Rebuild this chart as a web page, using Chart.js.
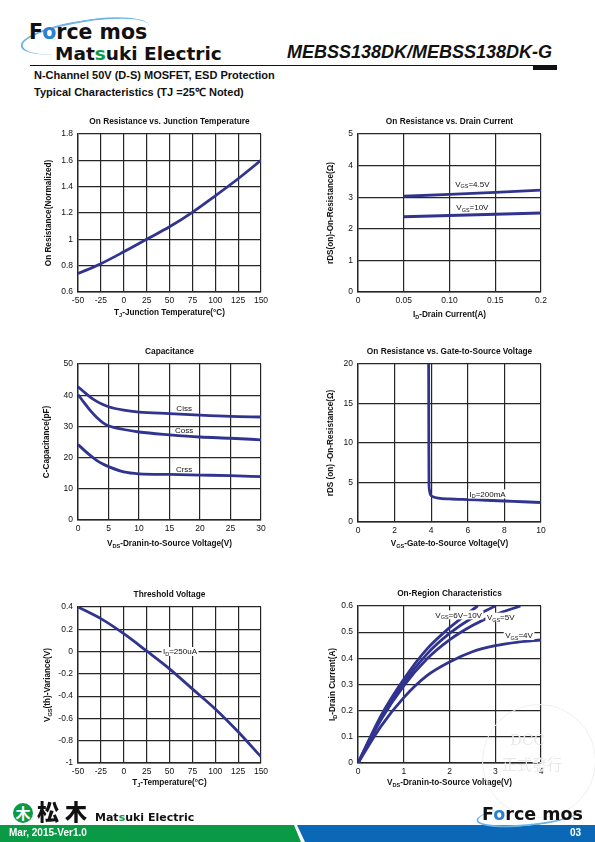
<!DOCTYPE html>
<html>
<head>
<meta charset="utf-8">
<script src="https://cdn.jsdelivr.net/npm/chart.js@4.4.1/dist/chart.umd.min.js"></script>
<style>
  body { margin: 0; }
  .page { position: relative; width: 595px; height: 842px; overflow: hidden; background: #fff;
          font-family: "Liberation Sans", Arial, sans-serif; color: #111; }
  .abs { position: absolute; white-space: nowrap; }
  canvas { position: absolute; }
  .heavy { font-family: "DejaVu Sans", sans-serif; font-weight: bold; color: #111; line-height: 1; }
  .green { color: #0a9a45; }
  .ball { color: #2a7fd4; }
</style>
</head>
<body>
<div class="page">
  <!-- header -->
  <div class="abs" style="left:20px;top:20px;width:128px;height:30px;border-top:2px solid #6cb4e8;border-left:2px solid #6cb4e8;border-radius:50%;transform:rotate(-9deg);"></div>
  <div class="abs heavy" style="left:29px;top:22px;font-size:20.5px;">F<span class="ball">o</span>rce mos</div>
  <div class="abs heavy" style="left:55px;top:45px;font-size:18.5px;">Mat<span class="green">s</span>uki Electric</div>
  <div class="abs" style="left:287px;top:43px;font-size:18px;font-style:italic;font-weight:bold;line-height:1;">MEBSS138DK/MEBSS138DK-G</div>
  <div class="abs" style="left:30px;top:65px;width:527px;height:1px;background:#111;"></div>
  <div class="abs" style="left:533px;top:65px;width:24px;height:5px;background:#111;"></div>
  <div class="abs" style="left:34px;top:69px;font-size:11px;font-weight:bold;line-height:13px;">N-Channel 50V (D-S) MOSFET, ESD Protection</div>
  <div class="abs" style="left:34px;top:86px;font-size:11px;font-weight:bold;line-height:13px;">Typical Characteristics (TJ =25℃ Noted)</div>

  <!-- charts -->
  <canvas id="c1" width="279" height="216" style="left:30px;top:110px;"></canvas>
  <canvas id="c2" width="279" height="216" style="left:310px;top:110px;"></canvas>
  <canvas id="c3" width="279" height="214" style="left:30px;top:340px;"></canvas>
  <canvas id="c4" width="279" height="216" style="left:310px;top:340px;"></canvas>
  <canvas id="c5" width="279" height="214" style="left:30px;top:583px;"></canvas>
  <canvas id="c6" width="279" height="215" style="left:310px;top:582px;"></canvas>

  <!-- faint stamp -->
  <div class="abs" style="left:482px;top:704px;width:112px;height:112px;border:1px solid #efefef;border-radius:50%;"></div>
  <div class="abs" style="left:510px;top:731px;font-family:'DejaVu Serif',serif;font-size:15px;color:#e9e9e9;">DCC</div>
  <div class="abs" style="left:502px;top:753px;font-family:'Noto Sans CJK TC',sans-serif;font-size:15px;color:#e9e9e9;">正式發行</div>

  <!-- footer -->
  <div class="abs" style="left:13px;top:803px;width:20px;height:20px;border-radius:50%;background:#0a9a45;color:#fff;font-family:'Noto Sans CJK JP',sans-serif;font-weight:bold;font-size:15px;line-height:20px;text-align:center;">木</div>
  <div class="abs" style="left:37px;top:797px;font-family:'Noto Sans CJK JP',sans-serif;font-weight:900;font-size:22px;letter-spacing:6px;line-height:26px;">松木</div>
  <div class="abs heavy" style="left:95px;top:812px;font-size:11px;">Mat<span class="green">s</span>uki Electric</div>
  <div class="abs" style="left:0;top:825px;width:302px;height:17px;background:#0a9a45;clip-path:polygon(0 0,294px 0,301px 100%,0 100%);"></div>
  <div class="abs" style="left:297px;top:825px;width:298px;height:17px;background:#0a68b6;clip-path:polygon(0 0,100% 0,100% 100%,8px 100%);"></div>
  <div class="abs" style="left:9px;top:827px;font-size:10px;font-weight:bold;color:#fff;line-height:12px;">Mar, 2015-Ver1.0</div>
  <div class="abs" style="left:570px;top:827px;font-size:10px;font-weight:bold;color:#fff;line-height:12px;">03</div>
  <div class="abs" style="left:476px;top:804px;width:104px;height:20px;border-bottom:2px solid #6cb4e8;border-left:2px solid #6cb4e8;border-radius:50%;transform:rotate(-6deg);"></div>
  <div class="abs heavy" style="left:482px;top:806px;font-size:17.5px;">F<span class="ball">o</span>rce mos</div>
</div>

<script>
// On resistance vs junction temperature
const tjTemp = [-50, -25, 0, 25, 50, 75, 100, 125, 150];
const rdsNorm = [0.74, 0.815, 0.905, 1.0, 1.095, 1.205, 1.33, 1.46, 1.6];
const tjTicks = [-50, -25, 0, 25, 50, 75, 100, 125, 150];
const rdsNormTicks = [0.6, 0.8, 1, 1.2, 1.4, 1.6, 1.8];

// On resistance vs drain current
const idCurrent = [0.05, 0.1, 0.15, 0.2];
const rdsVgs45 = [3.03, 3.09, 3.15, 3.22];
const rdsVgs10 = [2.38, 2.42, 2.46, 2.5];
const idTicks = [0, 0.05, 0.1, 0.15, 0.2];
const idTickLabels = ['0', '0.05', '0.10', '0.15', '0.2'];
const rdsTicks = [0, 1, 2, 3, 4, 5];

// Capacitance
const vdsCap = [0, 1, 2, 3, 4, 5, 7.5, 10, 15, 20, 25, 30];
const ciss = [42.7, 41, 39.4, 38.1, 37.1, 36.3, 35.2, 34.6, 34.1, 33.6, 33.2, 33];
const coss = [40.2, 37.6, 35.1, 33, 31.3, 30.2, 29, 28.2, 27.3, 26.6, 26.2, 25.7];
const crss = [24.2, 22.4, 20.7, 19.2, 18, 17.1, 15.4, 14.8, 14.6, 14.4, 14.2, 13.9];
const vdsCapTicks = [0, 5, 10, 15, 20, 25, 30];
const capTicks = [0, 10, 20, 30, 40, 50];

// On resistance vs gate-to-source voltage
const vgsSweep = [3.86, 3.87, 3.88, 3.9, 3.95, 4.1, 4.4, 5, 6, 7, 8, 9, 10];
const rdsId200 = [20, 10, 5, 4.1, 3.5, 3.2, 3.02, 2.92, 2.83, 2.75, 2.66, 2.56, 2.47];
const vgsTicks = [0, 2, 4, 6, 8, 10];
const rdsVgsTicks = [0, 5, 10, 15, 20];

// Threshold voltage
const tjVth = [-50, -25, 0, 25, 50, 75, 100, 125, 150];
const vthVar = [0.4, 0.295, 0.16, 0.005, -0.155, -0.335, -0.515, -0.72, -0.945];
const vthTicks = [-1, -0.8, -0.6, -0.4, -0.2, 0, 0.2, 0.4];

// On-region characteristics
const vdsOn10 = [0, 0.5, 1, 1.5, 2, 2.5, 2.62];
const idOn10 = [0, 0.18, 0.32, 0.434, 0.517, 0.585, 0.6];
const vdsOn6 = [0, 0.5, 1, 1.5, 2, 2.5, 3];
const idOn6 = [0, 0.17, 0.307, 0.415, 0.495, 0.555, 0.6];
const vdsOn5 = [0, 0.5, 1, 1.5, 2, 2.5, 3, 3.55];
const idOn5 = [0, 0.165, 0.295, 0.396, 0.47, 0.525, 0.567, 0.6];
const vdsOn4 = [0, 0.5, 1, 1.5, 2, 2.5, 3, 3.5, 4];
const idOn4 = [0, 0.14, 0.25, 0.333, 0.386, 0.425, 0.448, 0.462, 0.47];
const vdsOnTicks = [0, 1, 2, 3, 4];
const idOnTicks = [0, 0.1, 0.2, 0.3, 0.4, 0.5, 0.6];

const curveColor = '#30348f';
const gridColor = '#262626';
const fontFam = '"Liberation Sans", Arial, sans-serif';

Chart.defaults.font.family = fontFam;
Chart.defaults.color = '#111';

// text with subscripts: parts = [[text, isSub], ...], y is the visual middle
function drawRich(ctx, parts, x, y, size, bold, measureOnly) {
  const w = bold ? 'bold ' : '';
  const widths = parts.map(p => {
    ctx.font = w + (p[1] ? size * 0.68 : size) + 'px ' + fontFam;
    return ctx.measureText(p[0]).width;
  });
  const total = widths.reduce((a, b) => a + b, 0);
  if (measureOnly) return total;
  let cx = x - total / 2;
  ctx.textBaseline = 'alphabetic';
  ctx.textAlign = 'left';
  parts.forEach((p, i) => {
    ctx.font = w + (p[1] ? size * 0.68 : size) + 'px ' + fontFam;
    ctx.fillText(p[0], cx, y + size * 0.36 + (p[1] ? size * 0.2 : 0));
    cx += widths[i];
  });
  return total;
}

function sheetPlugin(spec) {
  return {
    id: 'sheetText',
    afterDraw(chart) {
      const ctx = chart.ctx, a = chart.chartArea;
      ctx.save();
      (spec.notes || []).forEach(n => {
        const px = chart.scales.x.getPixelForValue(n.x);
        const py = chart.scales.y.getPixelForValue(n.y);
        if (n.bg) {
          const tw = drawRich(ctx, n.text, px, py, 8, false, true);
          ctx.fillStyle = '#fff';
          ctx.fillRect(px - tw / 2 - 1.5, py - 4.5, tw + 3, 9);
        }
        ctx.fillStyle = '#111';
        drawRich(ctx, n.text, px, py, 8, false);
      });
      ctx.fillStyle = '#111';
      drawRich(ctx, spec.xTitle, (a.left + a.right) / 2, a.bottom + spec.xGap, 8.2, true);
      ctx.translate(a.left - spec.yGap, (a.top + a.bottom) / 2);
      ctx.rotate(-Math.PI / 2);
      drawRich(ctx, spec.yTitle, 0, 0, 8.2, true);
      ctx.restore();
    }
  };
}

function axis(min, max, ticks, labels, isX) {
  return {
    type: 'linear',
    min: min,
    max: max,
    afterBuildTicks: s => { s.ticks = ticks.map(v => ({ value: v })); },
    afterFit: s => { if (isX) { s.height = 34; } else { s.width = 48; } },
    grid: { color: gridColor, lineWidth: 1.2, drawTicks: false },
    border: { color: gridColor, width: 1.4 },
    ticks: {
      padding: isX ? 4 : 5,
      maxRotation: 0,
      autoSkip: false,
      font: { size: 8.5 },
      color: '#111',
      callback: (v, i) => labels ? labels[i] : String(+v.toFixed(3))
    }
  };
}

function sheetChart(id, series, xScale, yScale, spec) {
  new Chart(document.getElementById(id), {
    type: 'line',
    data: {
      datasets: series.map(s => ({
        data: s.x.map((x, i) => ({ x: x, y: s.y[i] })),
        borderColor: curveColor,
        borderWidth: 2.8,
        pointRadius: 0,
        fill: false,
        tension: s.straight ? 0 : 0.4,
        cubicInterpolationMode: s.straight ? 'default' : 'monotone'
      }))
    },
    options: {
      responsive: false,
      animation: false,
      events: [],
      layout: { padding: { left: 0, right: 48, top: 0, bottom: 0 } },
      plugins: {
        legend: { display: false },
        tooltip: { enabled: false },
        title: {
          display: true,
          fullSize: false,
          text: spec.title,
          color: '#111',
          font: { size: 8.3, weight: 'bold' },
          padding: { top: 7, bottom: 7 }
        }
      },
      scales: { x: xScale, y: yScale }
    },
    plugins: [sheetPlugin(spec)]
  });
}

sheetChart('c1',
  [{ x: tjTemp, y: rdsNorm }],
  axis(-50, 150, tjTicks, null, true),
  axis(0.6, 1.8, rdsNormTicks, null, false),
  { title: 'On Resistance vs. Junction Temperature',
    xTitle: [['T', 0], ['J', 1], ['-Junction Temperature(°C)', 0]],
    yTitle: [['On Resistance(Normalized)', 0]], xGap: 20, yGap: 30 });

sheetChart('c2',
  [{ x: idCurrent, y: rdsVgs45, straight: true }, { x: idCurrent, y: rdsVgs10, straight: true }],
  axis(0, 0.2, idTicks, idTickLabels, true),
  axis(0, 5, rdsTicks, null, false),
  { title: 'On Resistance vs. Drain Current',
    xTitle: [['I', 0], ['D', 1], ['-Drain Current(A)', 0]],
    yTitle: [['rDS(on)-On-Resistance(Ω)', 0]], xGap: 22, yGap: 28,
    notes: [
      { x: 0.125, y: 3.42, text: [['V', 0], ['GS', 1], ['=4.5V', 0]] },
      { x: 0.125, y: 2.67, text: [['V', 0], ['GS', 1], ['=10V', 0]] }
    ] });

sheetChart('c3',
  [{ x: vdsCap, y: ciss }, { x: vdsCap, y: coss }, { x: vdsCap, y: crss }],
  axis(0, 30, vdsCapTicks, null, true),
  axis(0, 50, capTicks, null, false),
  { title: 'Capacitance',
    xTitle: [['V', 0], ['DS', 1], ['-Dranin-to-Source Voltage(V)', 0]],
    yTitle: [['C-Capacitance(pF)', 0]], xGap: 23, yGap: 32,
    notes: [
      { x: 17.4, y: 35.9, text: [['Ciss', 0]] },
      { x: 17.4, y: 28.7, text: [['Coss', 0]] },
      { x: 17.4, y: 16.4, text: [['Crss', 0]] }
    ] });

sheetChart('c4',
  [{ x: vgsSweep, y: rdsId200 }],
  axis(0, 10, vgsTicks, null, true),
  axis(0, 20, rdsVgsTicks, null, false),
  { title: 'On Resistance vs. Gate-to-Source Voltage',
    xTitle: [['V', 0], ['GS', 1], ['-Gate-to-Source Voltage(V)', 0]],
    yTitle: [['rDS (on) -On-Resistance(Ω)', 0]], xGap: 21, yGap: 28,
    notes: [
      { x: 7.08, y: 3.55, text: [['I', 0], ['D', 1], ['=200mA', 0]], bg: true }
    ] });

sheetChart('c5',
  [{ x: tjVth, y: vthVar }],
  axis(-50, 150, tjTicks, null, true),
  axis(-1, 0.4, vthTicks, null, false),
  { title: 'Threshold Voltage',
    xTitle: [['T', 0], ['J', 1], ['-Temperature(°C)', 0]],
    yTitle: [['V', 0], ['GS', 1], ['(th)-Variance(V)', 0]], xGap: 19, yGap: 31,
    notes: [
      { x: 61.5, y: 0, text: [['I', 0], ['D', 1], ['=250uA', 0]], bg: true }
    ] });

sheetChart('c6',
  [{ x: vdsOn10, y: idOn10 }, { x: vdsOn6, y: idOn6 }, { x: vdsOn5, y: idOn5 }, { x: vdsOn4, y: idOn4 }],
  axis(0, 4, vdsOnTicks, null, true),
  axis(0, 0.6, idOnTicks, null, false),
  { title: 'On-Region Characteristics',
    xTitle: [['V', 0], ['DS', 1], ['-Dranin-to-Source Voltage(V)', 0]],
    yTitle: [['I', 0], ['D', 1], ['-Drain Current(A)', 0]], xGap: 19, yGap: 26,
    notes: [
      { x: 2.2, y: 0.566, text: [['V', 0], ['GS', 1], ['=6V~10V', 0]], bg: true },
      { x: 3.12, y: 0.557, text: [['V', 0], ['GS', 1], ['=5V', 0]], bg: true },
      { x: 3.52, y: 0.487, text: [['V', 0], ['GS', 1], ['=4V', 0]], bg: true }
    ] });
</script>
</body>
</html>
